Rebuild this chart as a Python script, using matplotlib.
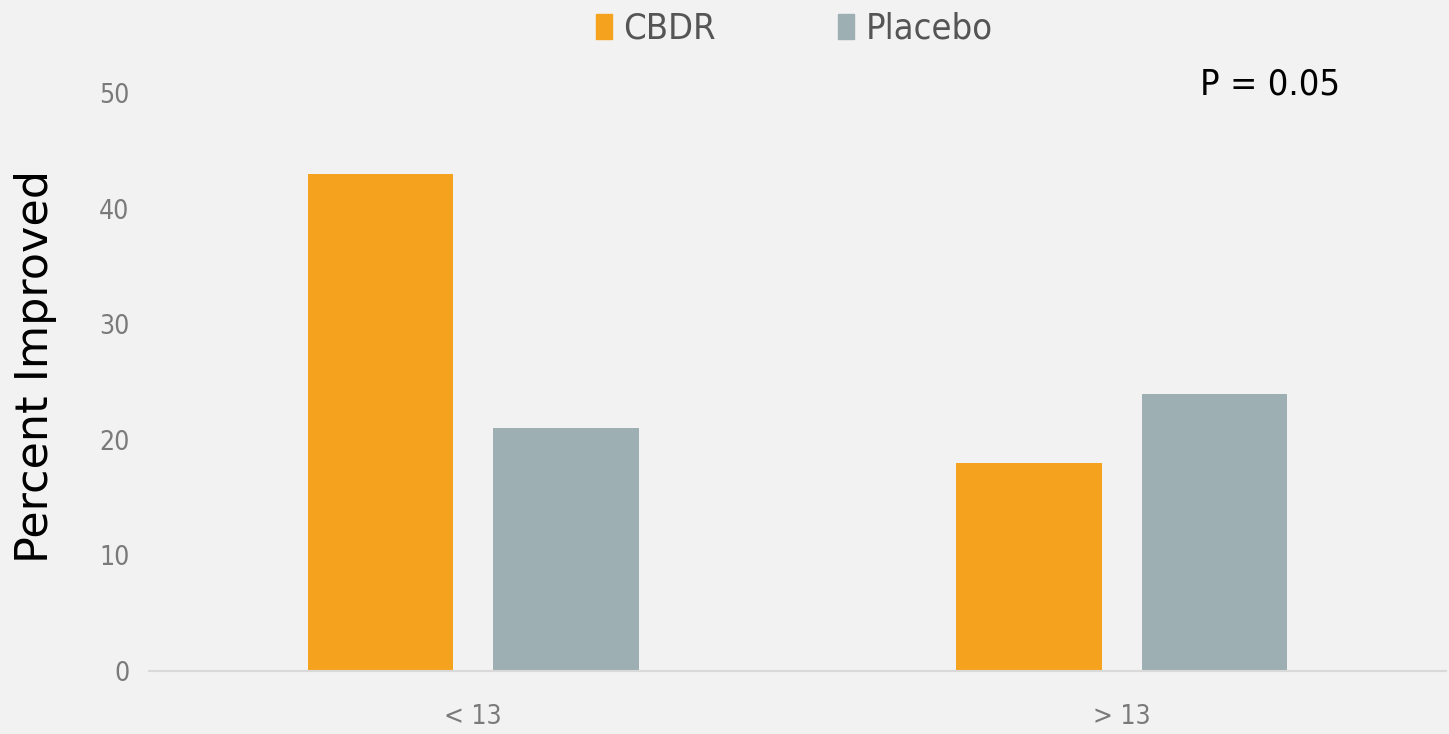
import matplotlib
matplotlib.use('Agg')
import matplotlib.pyplot as plt
import numpy as np
from matplotlib.patches import Patch

groups = ['< 13', '> 13']
cbdr = [43, 18]
placebo = [21, 24]

plt.rcParams['font.family'] = ['DejaVu Sans']
plt.rcParams['font.stretch'] = 'condensed'

bg = '#f2f2f2'
orange = '#f5a31e'
grey = '#9eafb4'

fig = plt.figure(figsize=(14.49, 7.34), dpi=100, facecolor=bg)
ax = fig.add_axes([0.1028, 0.0858, 0.8952, 0.7875], facecolor=bg)

x = np.arange(len(groups))
w = 0.224
ax.bar(x - 0.143, cbdr, w, color=orange, label='CBDR', zorder=2)
ax.bar(x + 0.143, placebo, w, color=grey, label='Placebo', zorder=2)

ax.set_xlim(-0.5, 1.5)
ax.set_ylim(0, 50)
ax.set_yticks([0, 10, 20, 30, 40, 50])
ax.set_xticks(x)
ax.set_xticklabels(groups)
ax.tick_params(length=0, labelsize=19, colors='#7a7a7a', pad=14)
ax.tick_params(axis='x', pad=24)
for s in ['top', 'right', 'left']:
    ax.spines[s].set_visible(False)
ax.spines['bottom'].set_color('#d9d9d9')
ax.spines['bottom'].set_linewidth(1.5)

ax.set_ylabel('Percent Improved', fontsize=32, color='#000000', stretch='normal',
              labelpad=30, y=0.526)

ax.text(1.229, 50.7, 'P = 0.05', fontsize=26, color='#000000', ha='center', va='center')

handles = [Patch(color=orange, label='CBDR'), Patch(color=grey, label='Placebo')]
fig.legend(handles=handles, loc='upper center', bbox_to_anchor=(0.548, 1.028), ncol=2,
           frameon=False, fontsize=26, handlelength=0.45, handleheight=0.7,
           handletextpad=0.3, columnspacing=3.4, labelcolor='#555555')

fig.savefig('out.png', dpi=100, facecolor=bg)
